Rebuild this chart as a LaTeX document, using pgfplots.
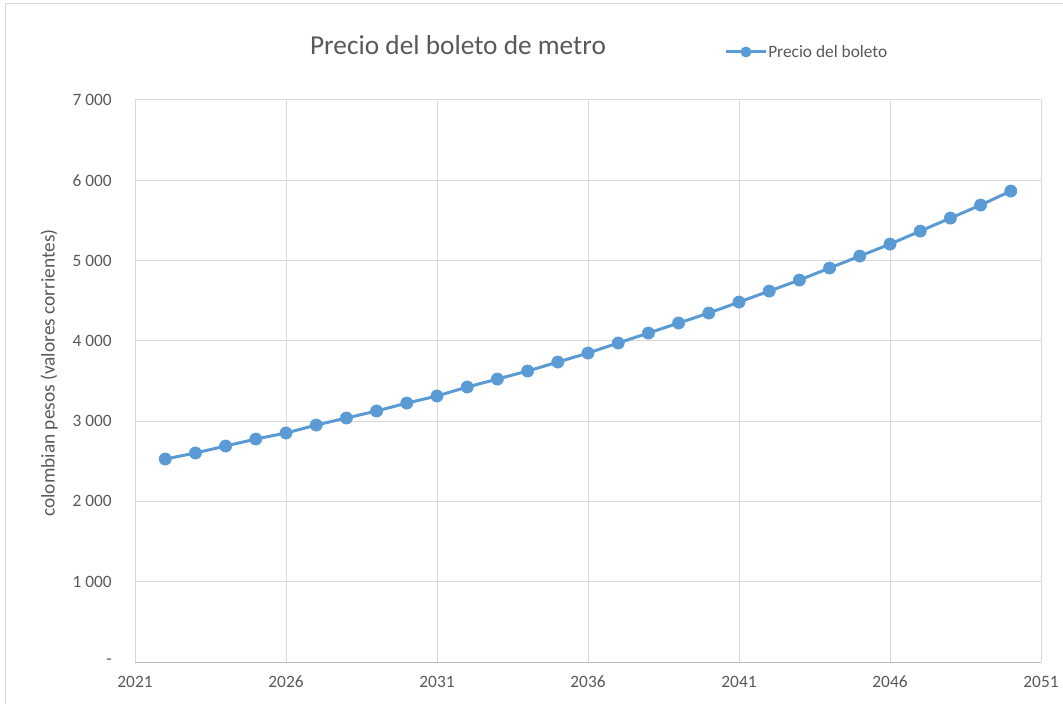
\documentclass[border=0pt]{standalone}
\usepackage{pgfplots}
\pgfplotsset{compat=1.18}
\usepackage{fontspec}
\setmainfont{Carlito}
\definecolor{serie}{HTML}{5B9BD5}
\definecolor{gridc}{HTML}{D9D9D9}
\definecolor{axc}{HTML}{BFBFBF}
\definecolor{txt}{HTML}{595959}
\begin{document}
\begin{tikzpicture}[x=0.75pt,y=0.75pt]
\path[use as bounding box] (0,0) rectangle (1063,703);
\fill[white] (0,0) rectangle (1063,703);
\draw[gridc, line width=0.75pt] (5,-20) -- (5,699) -- (1090,699);
\begin{axis}[
  at={(101.25pt,30.75pt)}, anchor=south west,
  width=679.5pt, height=421.5pt, scale only axis,
  xmin=2021, xmax=2051, ymin=0, ymax=7000,
  xtick={2021,2026,...,2051},
  xticklabels={2021,2026,2031,2036,2041,2046,2051},
  ytick={0,1000,...,7000},
  yticklabels={-,1\ 000,2\ 000,3\ 000,4\ 000,5\ 000,6\ 000,7\ 000},
  major tick length=0pt,
  grid=major,
  major grid style={gridc, line width=0.75pt},
  axis x line*=bottom, axis y line*=left,
  x axis line style={axc, line width=0.75pt, -},
  y axis line style={gridc, line width=0.75pt, -},
  /pgf/number format/assume math mode=true,
  tick label style={font=\fontsize{13}{15}\selectfont, text=txt},
  yticklabel style={xshift=-14pt},
  xticklabel style={yshift=-7pt},
  clip=false,
]
\addplot[serie, line width=2.25pt, mark=*, mark size=4.6pt, mark options={solid, fill=serie, draw=serie, line width=0.4pt}]
coordinates {
(2022,2528) (2023,2603) (2024,2690) (2025,2777) (2026,2852)
(2027,2951) (2028,3039) (2029,3126) (2030,3225) (2031,3313)
(2032,3425) (2033,3524) (2034,3624) (2035,3736) (2036,3848)
(2037,3973) (2038,4097) (2039,4222) (2040,4346) (2041,4483)
(2042,4620) (2043,4757) (2044,4907) (2045,5056) (2046,5205)
(2047,5367) (2048,5529) (2049,5691) (2050,5866)
};
\end{axis}
\node[text=txt, rotate=90, font=\fontsize{14.5}{17}\selectfont] at (49,330) {colombian pesos (valores corrientes)};
\node[text=txt, font=\fontsize{20.5}{24}\selectfont] at (458,658) {Precio del boleto de metro};
\draw[serie, line width=2.25pt] (726,651) -- (766,651);
\fill[serie] (746,651) circle (5.5);
\node[text=txt, anchor=west, font=\fontsize{13}{15}\selectfont, inner sep=0pt] at (768,651) {Precio del boleto};
\end{tikzpicture}
\end{document}
